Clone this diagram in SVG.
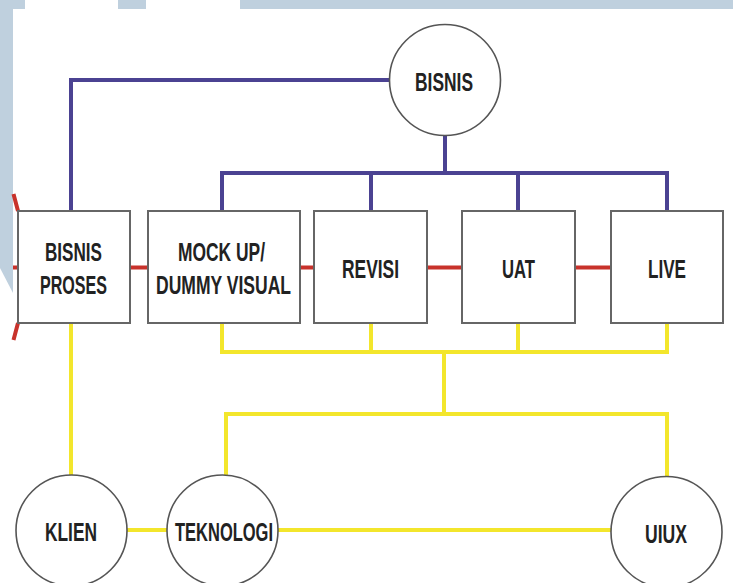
<svg xmlns="http://www.w3.org/2000/svg" width="733" height="583" viewBox="0 0 733 583">
<style>
.bg{fill:#bfd0de}
.blue{fill:none;stroke:#4b4292;stroke-width:4}
.red{fill:none;stroke:#c8322b;stroke-width:4}
.yel{fill:none;stroke:#f3e62c;stroke-width:4}
.box{fill:#fff;stroke:#666;stroke-width:2}
.circ{fill:#fff;stroke:#555;stroke-width:1.6}
.t{font-family:"Liberation Sans Narrow","Liberation Sans",sans-serif;font-weight:bold;font-size:26.5px;fill:#222;text-anchor:middle}
</style>
<rect width="733" height="583" fill="#fff"/>
<g id="background">
<rect class="bg" x="0" y="0" width="25" height="9"/>
<rect class="bg" x="118" y="0" width="28" height="9"/>
<rect class="bg" x="240" y="0" width="493" height="9"/>
<polygon class="bg" points="0,0 13,0 13,293 0,268"/>
</g>
<g id="connectors">
<path class="blue" d="M389,80 H71 V211"/>
<path class="blue" d="M445,135 V173 M222,211 V173 H667 V211 M371,173 V211 M518,173 V211"/>
<path class="red" d="M130,267.5 H148 M300,267.5 H314 M427,267.5 H462 M575,267.5 H611 M13,267.5 H18 M18,211 L13.5,194 M18,323 L13.5,340"/>
<path class="yel" d="M71,323 V475"/>
<path class="yel" d="M222,323 V352 H667 V323 M371,323 V352 M518,323 V352 M444,352 V414"/>
<path class="yel" d="M226,476 V414 H667 V477"/>
<path class="yel" d="M127,530 H167 M278,530 H611"/>
</g>
<g id="node-bisnis">
<circle class="circ" cx="445" cy="80" r="55.5"/>
<text class="t" x="444" y="90.5" textLength="58" lengthAdjust="spacingAndGlyphs">BISNIS</text>
</g>
<g id="node-bisnis-proses">
<rect class="box" x="18" y="211" width="112" height="112"/>
<text class="t" x="73.5" y="260.5" textLength="57" lengthAdjust="spacingAndGlyphs">BISNIS</text>
<text class="t" x="73.5" y="293.5" textLength="67" lengthAdjust="spacingAndGlyphs">PROSES</text>
</g>
<g id="node-mockup">
<rect class="box" x="148" y="211" width="152" height="112"/>
<text class="t" x="221.5" y="260.5" textLength="87" lengthAdjust="spacingAndGlyphs">MOCK UP/</text>
<text class="t" x="223.5" y="293.5" textLength="135" lengthAdjust="spacingAndGlyphs">DUMMY VISUAL</text>
</g>
<g id="node-revisi">
<rect class="box" x="314" y="211" width="113" height="112"/>
<text class="t" x="370.5" y="277.5" textLength="57" lengthAdjust="spacingAndGlyphs">REVISI</text>
</g>
<g id="node-uat">
<rect class="box" x="462" y="211" width="113" height="112"/>
<text class="t" x="518.5" y="277.5" textLength="33" lengthAdjust="spacingAndGlyphs">UAT</text>
</g>
<g id="node-live">
<rect class="box" x="611" y="211" width="112" height="112"/>
<text class="t" x="667" y="277.5" textLength="38" lengthAdjust="spacingAndGlyphs">LIVE</text>
</g>
<g id="node-klien">
<circle class="circ" cx="71.5" cy="530.5" r="55.5"/>
<text class="t" x="71" y="540.5" textLength="52" lengthAdjust="spacingAndGlyphs">KLIEN</text>
</g>
<g id="node-teknologi">
<circle class="circ" cx="222.5" cy="530.5" r="55.5"/>
<text class="t" x="224" y="540.5" textLength="98" lengthAdjust="spacingAndGlyphs">TEKNOLOGI</text>
</g>
<g id="node-uiux">
<circle class="circ" cx="666.5" cy="532" r="55.5"/>
<text class="t" x="666" y="542.5" textLength="42" lengthAdjust="spacingAndGlyphs">UIUX</text>
</g>
</svg>
